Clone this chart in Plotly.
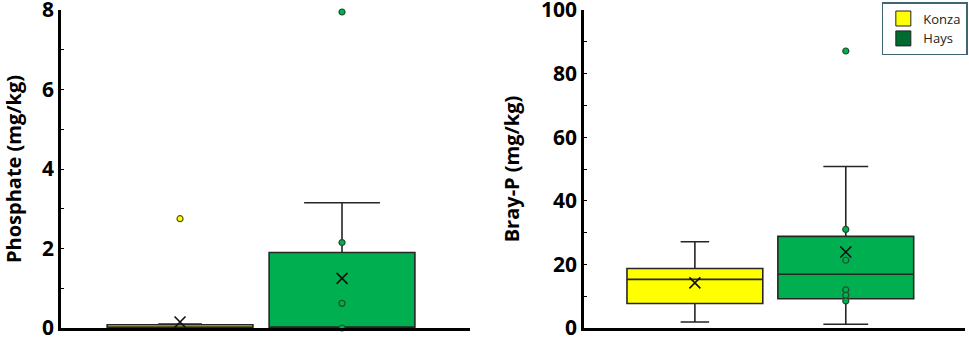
import plotly.graph_objects as go

sites = ["Konza", "Hays"]
fill_colors = ["#FFFF00", "#00B050"]
legend_colors = ["#FFFF00", "#006B2E"]

# Phosphate (mg/kg) box statistics
phos_q1 = [0.0, 0.0]
phos_median = [0.0, 0.0]
phos_q3 = [0.08, 1.9]
phos_lower = [0.0, 0.0]
phos_upper = [0.1, 3.15]
phos_mean = [0.15, 1.25]
phos_points_konza = [2.75]
phos_points_hays = [7.95, 2.15, 0.62, 0.0]

# Bray-P (mg/kg) box statistics
bray_q1 = [7.7, 9.2]
bray_median = [15.3, 16.9]
bray_q3 = [18.7, 28.8]
bray_lower = [1.9, 1.2]
bray_upper = [27.1, 50.8]
bray_mean = [14.2, 23.9]
bray_points_konza = []
bray_points_hays = [87.1, 31.0, 21.3, 12.0, 10.3, 8.5]

phos_whisker = [0.3, 0.52]
bray_whisker = [0.21, 0.33]

fig = go.Figure()

def add_panel(xa, ya, q1, med, q3, lo, hi, mean, pts, whisk):
    for i, s in enumerate(sites):
        fig.add_trace(go.Box(
            x=[s], q1=[q1[i]], median=[med[i]], q3=[q3[i]],
            lowerfence=[lo[i]], upperfence=[hi[i]],
            fillcolor=fill_colors[i], line=dict(color="#262626", width=1.6),
            width=0.9, whiskerwidth=whisk[i], boxpoints=False,
            showlegend=False, xaxis=xa, yaxis=ya, hoverinfo="skip"))
    for i, s in enumerate(sites):
        if pts[i]:
            fig.add_trace(go.Scatter(
                x=[s] * len(pts[i]), y=pts[i], mode="markers",
                marker=dict(size=6, color=fill_colors[i],
                            line=dict(color="#1F4D2A" if i else "#555500", width=1.2)),
                showlegend=False, xaxis=xa, yaxis=ya, cliponaxis=False))
    fig.add_trace(go.Scatter(
        x=sites, y=mean, mode="markers",
        marker=dict(symbol="x-thin", size=11, line=dict(color="#111111", width=1.6)),
        showlegend=False, xaxis=xa, yaxis=ya))

add_panel("x", "y", phos_q1, phos_median, phos_q3, phos_lower, phos_upper,
          phos_mean, [phos_points_konza, phos_points_hays], phos_whisker)
add_panel("x2", "y2", bray_q1, bray_median, bray_q3, bray_lower, bray_upper,
          bray_mean, [bray_points_konza, bray_points_hays], bray_whisker)

for i, s in enumerate(sites):
    fig.add_trace(go.Scatter(
        x=[None], y=[None], mode="markers", name=s,
        marker=dict(symbol="square", size=15, color=legend_colors[i],
                    line=dict(color="#222222", width=1)),
        xaxis="x2", yaxis="y2"))

tickfont = dict(family="Open Sans", size=21, color="black", weight="bold")
titlefont = dict(family="Open Sans", size=20, color="black", weight="bold")

xcommon = dict(type="category", showticklabels=False, ticks="", showline=True,
               linecolor="black", linewidth=2.5, showgrid=False, zeroline=False,
               range=[-0.735, 1.79], categoryorder="array", categoryarray=sites,
               automargin=False)

ycommon = dict(showline=True, linecolor="black", linewidth=2.5, showgrid=False,
               zeroline=False, ticks="inside", ticklen=3, tickcolor="black",
               ticklabeloverflow="allow", automargin=False, tickfont=tickfont)

fig.update_layout(
    width=969, height=340,
    margin=dict(l=61, r=4, t=10, b=12, autoexpand=False),
    plot_bgcolor="white", paper_bgcolor="white",
    xaxis=dict(domain=[0, 0.4524], anchor="y", **xcommon),
    xaxis2=dict(domain=[0.5785, 1.0], anchor="y2", **xcommon),
    yaxis=dict(range=[0, 8], dtick=2, anchor="x",
               minor=dict(dtick=1, ticks="inside", ticklen=3, tickcolor="black"),
               title=dict(text="Phosphate (mg/kg)", font=titlefont, standoff=16),
               **ycommon),
    yaxis2=dict(range=[0, 100], dtick=20, anchor="x2",
                minor=dict(dtick=10, ticks="inside", ticklen=3, tickcolor="black"),
                title=dict(text="Bray-P (mg/kg)", font=titlefont, standoff=16),
                **ycommon),
    legend=dict(x=0.908, y=1.025, xanchor="left", yanchor="top",
                bgcolor="white", bordercolor="#3F6474", borderwidth=1.5,
                font=dict(family="Open Sans", size=13, color="#222222"),
                tracegroupgap=0, itemwidth=30),
    boxmode="overlay",
)

fig.write_html("out.html", config={"displayModeBar": False},
               post_script="document.body.style.margin='0';document.body.style.overflow='hidden';")
